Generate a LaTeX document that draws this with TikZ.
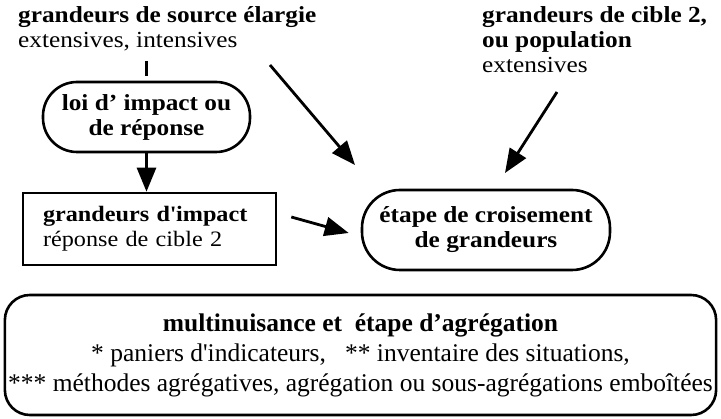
\documentclass[tikz,border=0pt]{standalone}
\usepackage{fontspec}
\setmainfont{Liberation Serif}
\newfontfamily\widefont{Liberation Serif}[FakeStretch=1.1]
\usetikzlibrary{arrows.meta,calc}
\tikzset{
  txt/.style={inner sep=0pt,anchor=north west,align=left,font=\widefont\fontsize{23}{25}\selectfont},
  box/.style={draw,line width=2.6pt,align=center,font=\widefont\fontsize{23}{25}\selectfont\bfseries},
  arr/.style={line width=2.8pt,-{Triangle[length=24pt,width=19pt]}},
}
\begin{document}
\begin{tikzpicture}[x=1pt,y=-1pt]
\useasboundingbox (0,0) rectangle (721,419);
\node[txt] (src) at (18,6) {\textbf{grandeurs de source élargie}\\extensives, intensives};
\node[txt] (cib) at (482,6) {\textbf{grandeurs de cible 2,}\\\textbf{ou population}\\extensives};
\node[box,rounded corners=34pt,minimum width=207pt,minimum height=70pt] (loi) at (146.5,117) {loi d’ impact ou\\de réponse};
\node[box,minimum width=253pt,minimum height=72pt,text width=213pt,align=left,font=\widefont\fontsize{22}{25}\selectfont] (imp) at (149.5,229) {\textbf{grandeurs d\textquotesingle impact}\\réponse de cible 2};
\node[box,rounded corners=38pt,minimum width=248pt,minimum height=80pt] (cro) at (486,230) {étape de croisement\\de grandeurs};
\node[box,rounded corners=25pt,minimum width=711pt,minimum height=120pt,font=\fontsize{25.5}{30}\selectfont] (agg) at (360.5,355) {\textbf{multinuisance et\ \ étape d’agrégation}\\* paniers d\textquotesingle indicateurs,\ \ \ ** inventaire des situations,\\*** méthodes agrégatives, agrégation ou sous-agrégations emboîtées};
\coordinate (s1) at (270,65);
\coordinate (c1) at (355,165);
\coordinate (s2) at (557,92);
\coordinate (c2) at (505,173);
\draw[line width=2.8pt,shorten <=10pt,shorten >=5pt] (src.south -| loi.north) -- (loi.north);
\draw[arr] (loi.south) -- (loi.south |- imp.north);
\draw[arr] ($(imp.east)+(14,-12)$) -- ($(cro.west)+(-12,3)$);
\draw[arr] (s1) -- (c1);
\draw[arr] (s2) -- (c2);
\end{tikzpicture}
\end{document}
